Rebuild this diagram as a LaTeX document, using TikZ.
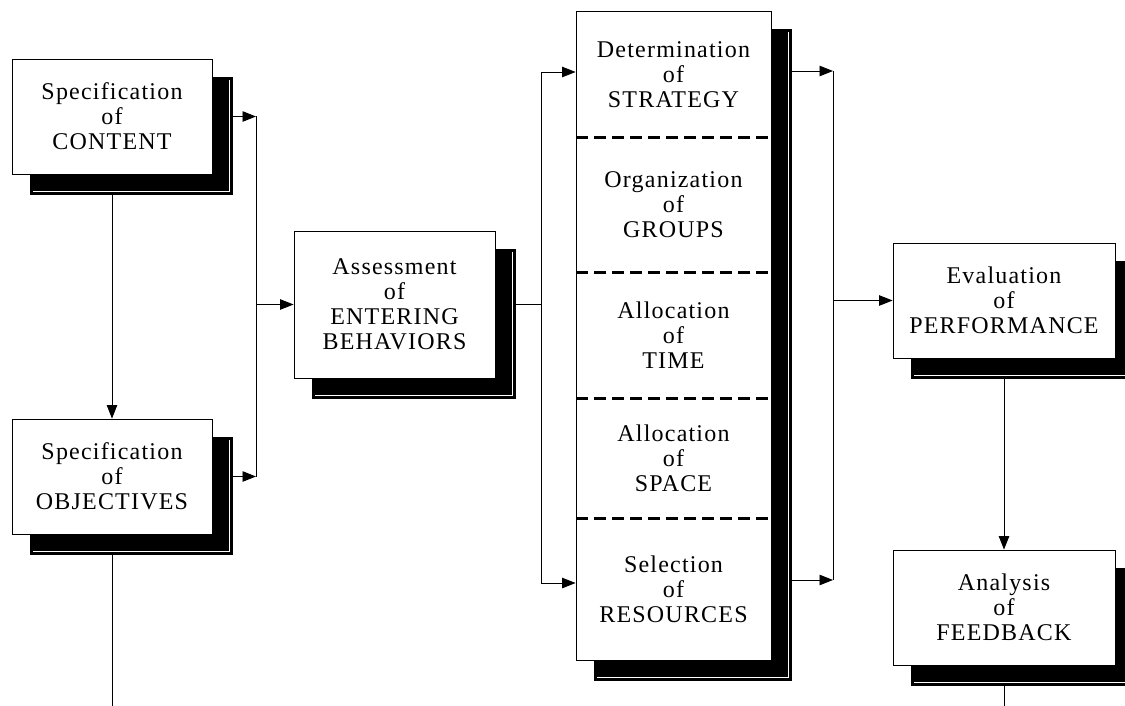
\documentclass[tikz,border=0pt]{standalone}
\usepackage{fontspec}
\setmainfont{Liberation Serif}[LetterSpace=5]
\usetikzlibrary{arrows.meta,calc}
\begin{document}
\begin{tikzpicture}[x=1pt,y=-1pt,
  every node/.style={font=\fontsize{24}{25}\selectfont},
  box/.style 2 args={draw=black, line width=0.9pt, fill=white,
    minimum width=#1, minimum height=#2, inner sep=0pt, align=center},
  shade/.style 2 args={draw=black, line width=0.9pt, fill=black,
    minimum width=#1+2, minimum height=#2+2, inner sep=0pt,
    path picture={
      \draw[white, line width=0.5pt]
        ($(path picture bounding box.north east)+(-2.6,3)$) --
        ($(path picture bounding box.south east)+(-2.6,-2.6)$) --
        ($(path picture bounding box.south west)+(3,-2.6)$);
    }},
  lbl/.style={align=center, inner sep=0pt},
  wire/.style={line width=0.9pt},
  arr/.style={wire, -{Triangle[length=13.5pt,width=10.5pt]}},
  divider/.style={line width=3pt, dash pattern=on 12pt off 6pt},
]
\useasboundingbox (0,0) rectangle (1125,706);
\coordinate (bottom) at (0,706);

% left column
\node[shade={200}{115}] (contentsh) at (131,135.5) {};
\node[box={200}{115}] (content) at (112,116.5) {Specification\\of\\CONTENT};
\node[shade={200}{115}] (objectivessh) at (131,495.5) {};
\node[box={200}{115}] (objectives) at (112,476.5) {Specification\\of\\OBJECTIVES};

% entering behaviours
\node[shade={201}{147}] (assesssh) at (413.5,323.5) {};
\node[box={201}{147}] (assess) at (394.5,304.5) {Assessment\\of\\ENTERING\\BEHAVIORS};

% instructional procedures column
\node[shade={195}{649}] (tallsh) at (692.5,354.5) {};
\node[box={195}{649}] (tall) at (673.5,335.5) {};
\node[lbl] (t1) at (673.5,74.5) {Determination\\of\\STRATEGY};
\node[lbl] (t2) at (673.5,205) {Organization\\of\\GROUPS};
\node[lbl] (t3) at (673.5,335) {Allocation\\of\\TIME};
\node[lbl] (t4) at (673.5,458) {Allocation\\of\\SPACE};
\node[lbl] (t5) at (673.5,589) {Selection\\of\\RESOURCES};
\foreach \yy in {138,272,398,518}
  \draw[divider] (576,\yy) -- (771,\yy);

% right column
\node[shade={222}{115}] (evalsh) at (1023,319.5) {};
\node[box={222}{115}] (eval) at (1004,300.5) {Evaluation\\of\\PERFORMANCE};
\node[shade={222}{115}] (analysissh) at (1023,626.5) {};
\node[box={222}{115}] (analysis) at (1004,607.5) {Analysis\\of\\FEEDBACK};

% junctions
\coordinate (jl) at (256,304.5);
\coordinate (jm) at (541,304.5);
\coordinate (jmt) at (541,72);
\coordinate (jmb) at (541,583);
\coordinate (jrt) at (833,71);
\coordinate (jrb) at (833,580);
\coordinate (jr) at (833,300.5);

% connectors
\draw[arr] (content.east -| contentsh.east) -- (content.east -| jl);
\draw[arr] (objectives.east -| objectivessh.east) -- (objectives.east -| jl);
\draw[wire] (content.east -| jl) -- (objectives.east -| jl);
\draw[arr] (jl) -- (assess.west);
\draw[arr] (content.south |- contentsh.south) -- (objectives.north);
\draw[wire] (objectives.south |- objectivessh.south) -- (objectives.south |- bottom);

\draw[wire] (assess.east -| assesssh.east) -- (jm);
\draw[wire] (jmt) -- (jmb);
\draw[arr] (jmt) -- (jmt -| tall.west);
\draw[arr] (jmb) -- (jmb -| tall.west);

\draw[arr] (jrt -| tallsh.east) -- (jrt);
\draw[arr] (jrb -| tallsh.east) -- (jrb);
\draw[wire] (jrt) -- (jrb);
\draw[arr] (jr) -- (eval.west);
\draw[arr] (eval.south |- evalsh.south) -- (analysis.north);
\draw[wire] (analysis.south |- analysissh.south) -- (analysis.south |- bottom);
\end{tikzpicture}
\end{document}
